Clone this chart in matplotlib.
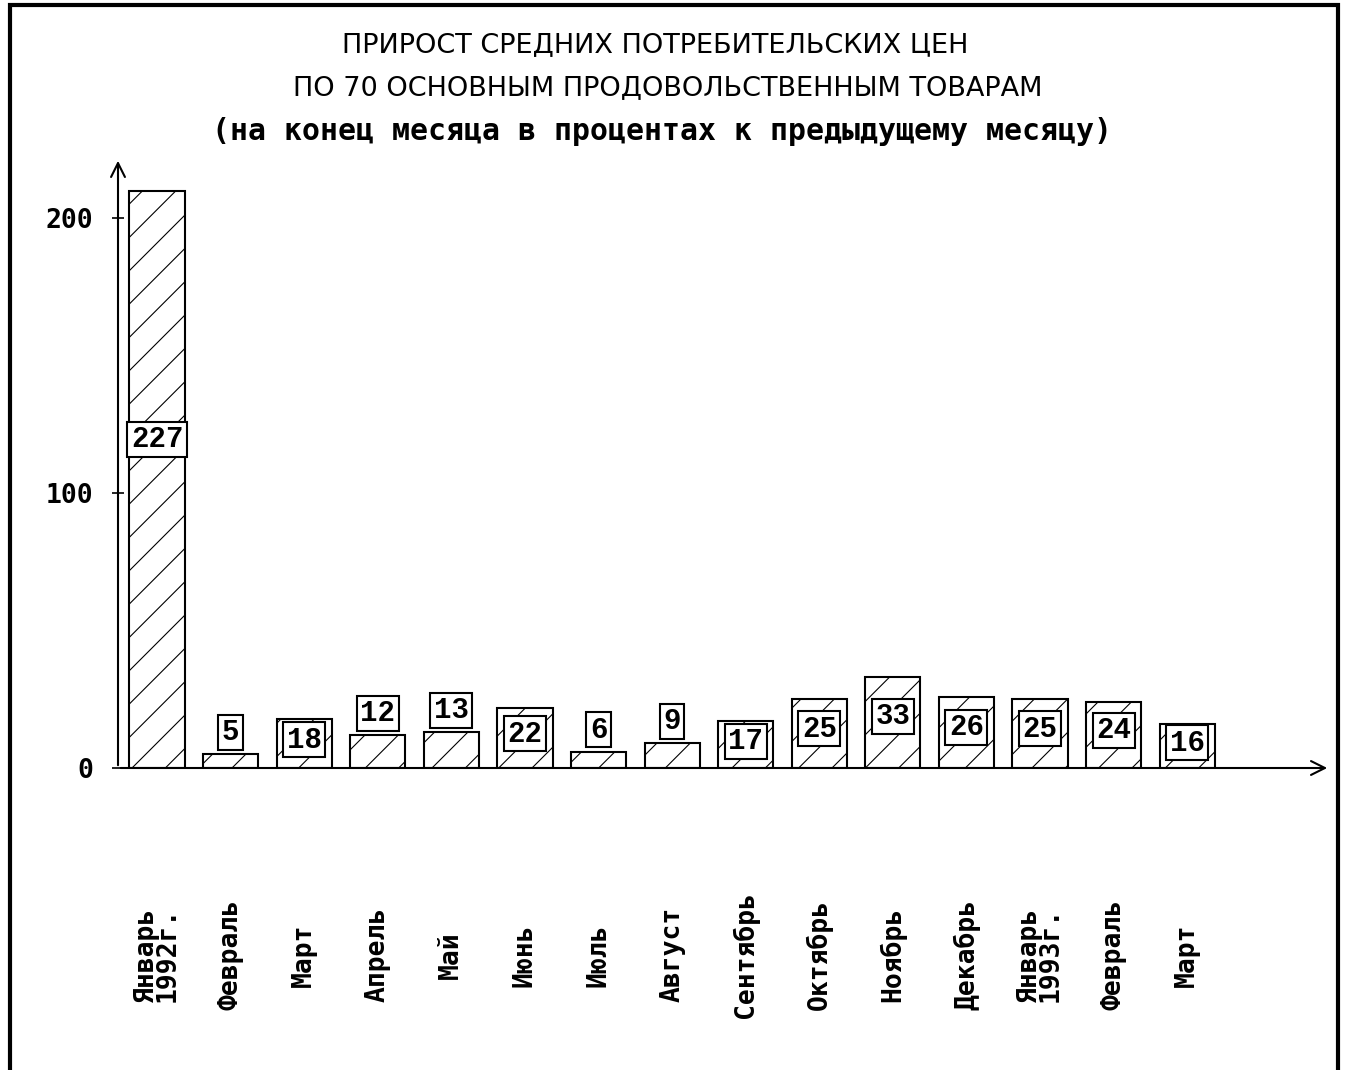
import numpy as np
import matplotlib
matplotlib.use("Agg")
import matplotlib.pyplot as plt
from matplotlib.patches import Rectangle

# --- data ---
months = ["Январь\n1992г.", "Февраль", "Март", "Апрель", "Май", "Июнь", "Июль",
          "Август", "Сентябрь", "Октябрь", "Ноябрь", "Декабрь",
          "Январь\n1993г.", "Февраль", "Март"]
values = [227, 5, 18, 12, 13, 22, 6, 9, 17, 25, 33, 26, 25, 24, 16]
y_ticks = [0, 100, 200]
y_cap = 210  # January bar is cut off at the top of the scale

title_lines = ["ПРИРОСТ СРЕДНИХ ПОТРЕБИТЕЛЬСКИХ ЦЕН",
               "ПО 70 ОСНОВНЫМ ПРОДОВОЛЬСТВЕННЫМ ТОВАРАМ"]
subtitle = "(на конец месяца в процентах к предыдущему месяцу)"

plt.rcParams["hatch.linewidth"] = 0.8

fig = plt.figure(figsize=(13.49, 10.70), dpi=100)
ax = fig.add_axes([118 / 1349, (1070 - 768) / 1070, (1330 - 118) / 1349, (768 - 158) / 1070])

x = np.arange(len(values))
heights = np.minimum(values, y_cap)
ax.bar(x, heights, width=0.75, color="white", edgecolor="black", hatch="/", linewidth=1.5)

# value boxes: inside the bar for big values, above it for small ones
for xi, v, h in zip(x, values, heights):
    y = max(v / 2, h * 0.57) if v >= 15 else v + 8
    ax.text(xi, y, str(v), ha="center", va="center", fontsize=21, fontweight="bold",
            family="Liberation Mono",
            bbox=dict(boxstyle="square,pad=0.12", facecolor="white", edgecolor="black", linewidth=1.5))

ax.set_xlim(-0.53, 15.94)
ax.set_ylim(0, 222)
for s in ax.spines.values():
    s.set_visible(False)

# axes with arrows
ax.annotate("", xy=(-0.53, 222), xytext=(-0.53, 0),
            arrowprops=dict(arrowstyle="->", lw=1.5, color="black", mutation_scale=25), annotation_clip=False)
ax.annotate("", xy=(15.94, 0), xytext=(-0.53, 0),
            arrowprops=dict(arrowstyle="->", lw=1.5, color="black", mutation_scale=25), annotation_clip=False)

ax.set_yticks(y_ticks)
ax.set_yticklabels([str(t) for t in y_ticks], fontsize=19, fontweight="bold", family="DejaVu Sans Mono")
ax.tick_params(axis="y", direction="inout", length=8, width=1.2, pad=14)

ax.set_xticks([])
for xi, m in zip(x, months):
    ax.text(xi, -68, m, rotation=90, ha="center", va="center", fontsize=19,
            fontweight="bold", family="DejaVu Sans Mono", linespacing=0.8)

# title
title_font = dict(fontsize=19.5, family="DejaVu Sans")
fig.text(655 / 1349, 1 - 45 / 1070, title_lines[0], ha="center", va="center", **title_font)
fig.text(668 / 1349, 1 - 88 / 1070, title_lines[1], ha="center", va="center", **title_font)
fig.text(662 / 1349, 1 - 132 / 1070, subtitle, ha="center", va="center",
         fontsize=21.5, fontweight="bold", family="DejaVu Sans Mono")

# frame around the whole picture
fig.patches.append(Rectangle((10 / 1349, -0.01), (1338 - 10) / 1349, 1.0 - 5 / 1070 + 0.01,
                             transform=fig.transFigure, fill=False, edgecolor="black", linewidth=3))

fig.savefig("out.png", dpi=100)
